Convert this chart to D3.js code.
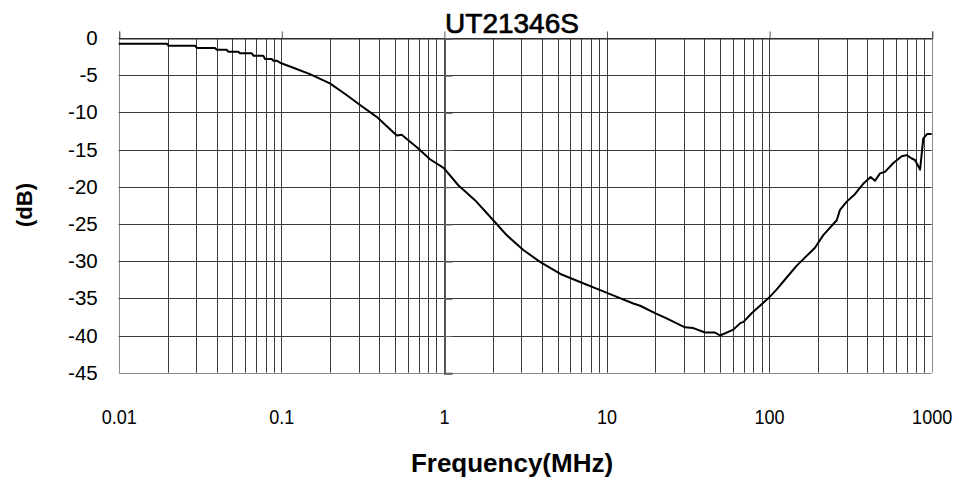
<!DOCTYPE html>
<html><head><meta charset="utf-8">
<script src="https://cdn.jsdelivr.net/npm/d3@7"></script>
<style>
html,body{margin:0;padding:0;background:#fff;}
svg{display:block;}
text{font-family:"Liberation Sans",Arial,sans-serif;fill:#000;}
</style></head>
<body><svg id="c" width="959" height="482"></svg>
<script>
const title = "UT21346S";
const xTitle = "Frequency(MHz)";
const yTitle = "(dB)";
const xTickValues = [0.01, 0.1, 1, 10, 100, 1000];
const xTickLabels = ["0.01", "0.1", "1", "10", "100", "1000"];
const yTickValues = [0, -5, -10, -15, -20, -25, -30, -35, -40, -45];
const yTickLabels = ["0", "-5", "-10", "-15", "-20", "-25", "-30", "-35", "-40", "-45"];
const freq = [0.01, 0.0198, 0.0202, 0.0295, 0.0302, 0.0391, 0.0400, 0.0461, 0.0472, 0.0544, 0.0557, 0.0658, 0.0674, 0.0775, 0.0794, 0.0874, 0.0893, 0.0937, 0.1,
  0.1185, 0.150, 0.199, 0.252, 0.305, 0.386, 0.513, 0.550, 0.696, 0.821, 1.0, 1.226, 1.553, 2.013, 2.43, 3.08, 3.90, 5.30, 6.87, 8.91, 11.28, 14.62, 16.1, 19.87, 22.9, 30.4, 34.2, 40.4, 46.5, 49.9,
  60.3, 66.8, 69.4, 78.1, 98.9, 111.4, 128.3, 147.9, 191.5, 215.4, 260.6, 273, 300, 337, 379, 421, 448, 481, 516, 581, 654, 702, 754, 789, 848, 888, 940, 1000];
const dB = [-0.76, -0.76, -1.03, -1.03, -1.34, -1.34, -1.57, -1.57, -1.84, -1.84, -2.06, -2.06, -2.37, -2.37, -2.82, -2.82, -3.05, -3.05, -3.4,
  -4.0, -4.85, -6.1, -7.67, -9.0, -10.6, -13.1, -13.0, -14.85, -16.3, -17.5, -19.8, -21.8, -24.5, -26.5, -28.5, -30.1, -31.8, -32.8, -33.8, -34.7, -35.7, -36.0, -37.0, -37.6, -38.9, -39.0, -39.6, -39.6, -40.0,
  -39.2, -38.3, -38.2, -37.0, -35.0, -33.8, -32.2, -30.6, -28.2, -26.5, -24.5, -23.1, -22.0, -21.0, -19.6, -18.7, -19.2, -18.2, -18.0, -16.8, -15.9, -15.75, -16.2, -16.4, -17.7, -13.5, -12.9, -12.9];

const svg = d3.select("#c");
const L = 118.7, R = 931.7, T = 38, B = 372.7;
const x = d3.scaleLog().domain([0.01, 1000]).range([L, R]);
const y = d3.scaleLinear().domain([-45, 0]).range([B, T]);

const gridX = [];
for (let e = -2; e <= 2; e++) for (let m = 1; m <= 9; m++) gridX.push(m * Math.pow(10, e));
gridX.push(1000);

const grid = svg.append("g");
grid.selectAll("line.v").data(gridX).join("line")
  .attr("x1", d => Math.round(x(d)) + 0.5).attr("x2", d => Math.round(x(d)) + 0.5)
  .attr("y1", T).attr("y2", B)
  .attr("stroke", d => (d === 0.01 || d === 1000) ? "#888" : "#3a3a3a").attr("stroke-width", 1);
grid.selectAll("line.h").data(yTickValues).join("line")
  .attr("x1", L).attr("x2", R)
  .attr("y1", d => Math.round(y(d)) + 0.5).attr("y2", d => Math.round(y(d)) + 0.5)
  .attr("stroke", d => d === -45 ? "#888" : "#3a3a3a").attr("stroke-width", 1);

const topAxis = svg.append("g").attr("transform", `translate(0.5,${Math.round(y(0)) + 0.5})`)
  .call(d3.axisTop(x).tickValues(xTickValues).tickSize(7).tickFormat(""));
topAxis.select(".domain").attr("stroke", "#222");
topAxis.selectAll(".tick line").attr("stroke", "#555");

const midAxis = svg.append("g").attr("transform", `translate(${Math.round(x(1)) + 0.5},0.5)`)
  .call(d3.axisRight(y).tickValues(yTickValues).tickSize(8).tickFormat(""));
midAxis.select(".domain").attr("stroke", "#555").attr("stroke-width", 2);
midAxis.selectAll(".tick line").attr("stroke", "#666");

const xLab = svg.append("g").attr("transform", `translate(0,${B})`)
  .call(d3.axisBottom(x).tickValues(xTickValues).tickSize(0).tickPadding(36)
    .tickFormat((d, i) => xTickLabels[i]));
xLab.select(".domain").remove();
xLab.selectAll("text").attr("font-size", 21).attr("transform", "scale(0.86,1)");

const yLab = svg.append("g").attr("transform", `translate(${L - 1},0)`)
  .call(d3.axisLeft(y).tickValues(yTickValues).tickSize(0).tickPadding(20)
    .tickFormat((d, i) => yTickLabels[i]));
yLab.select(".domain").remove();
yLab.selectAll("text").attr("font-size", 20.5);

const line = d3.line().x(d => x(d[0])).y(d => y(d[1]));
svg.append("path").datum(freq.map((f, i) => [f, dB[i]]))
  .attr("d", line).attr("fill", "none").attr("stroke", "#000").attr("stroke-width", 2)
  .attr("stroke-linejoin", "round");

svg.append("text").attr("x", 512).attr("y", 33).attr("text-anchor", "middle")
  .attr("font-size", 28).attr("stroke", "#000").attr("stroke-width", 0.7).text(title);
svg.append("text").attr("x", 512).attr("y", 472).attr("text-anchor", "middle")
  .attr("font-size", 26).attr("font-weight", "bold").text(xTitle);
svg.append("text").attr("transform", "translate(32,205) rotate(-90)").attr("text-anchor", "middle")
  .attr("font-size", 22).attr("font-weight", "bold").text(yTitle);
</script></body></html>
